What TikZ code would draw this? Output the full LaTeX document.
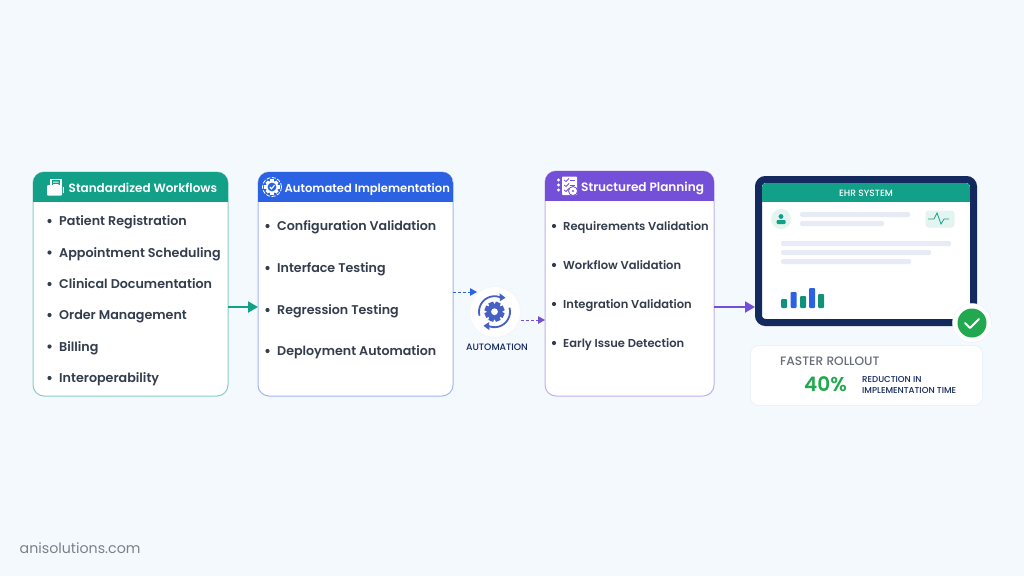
\documentclass[tikz,border=0pt]{standalone}
\usepackage{fontspec}
\setmainfont{Poppins}[UprightFont=* Medium,BoldFont=* SemiBold]
\newfontfamily\lightface{Poppins}
\usetikzlibrary{arrows.meta,calc}
\definecolor{pagebg}{HTML}{F4F9FE}
\definecolor{tealc}{HTML}{13A088}
\definecolor{bluec}{HTML}{2B62E3}
\definecolor{purplec}{HTML}{7450D8}
\definecolor{navyc}{HTML}{14295E}
\definecolor{inkc}{HTML}{333D4D}
\definecolor{gearc}{HTML}{4660C4}
\definecolor{barc}{HTML}{E6EBF5}
\definecolor{okc}{HTML}{22A94F}
\tikzset{
  card/.style={draw=#1,line width=1pt,fill=white,rounded corners=11pt,inner sep=0pt,outer sep=0pt,anchor=north west},
  head/.style={anchor=base west,inner sep=0pt,text=white},
  item/.style={anchor=base west,inner sep=0pt,text=inkc},
  dotb/.style={circle,fill=inkc,minimum size=4.2pt,inner sep=0pt},
  flow/.style={line width=2pt,-{Triangle[length=10pt,width=11pt]}},
  dashflow/.style={line width=1pt,dash pattern=on 3pt off 2pt,-{Triangle[length=7pt,width=7.5pt]}},
  pill/.style={fill=barc,rounded corners=1.5pt},
}
\begin{document}
\begin{tikzpicture}[x=1pt,y=-1pt]
\useasboundingbox (0,0) rectangle (1024,576);
\fill[pagebg] (0,0) rectangle (1024,576);

% cards
\node[card=tealc!50,minimum width=195pt,minimum height=224pt] (c1) at (33,172) {};
\node[card=bluec!45,minimum width=195pt,minimum height=224pt] (c2) at (258,172) {};
\node[card=purplec!45,minimum width=169pt,minimum height=225pt] (c3) at (545,171) {};
\begin{scope}\clip[rounded corners=11pt] (33,172) rectangle (228,396); \fill[tealc] (33,172) rectangle (228,202);\end{scope}
\begin{scope}\clip[rounded corners=11pt] (258,172) rectangle (453,396); \fill[bluec] (258,172) rectangle (453,202);\end{scope}
\begin{scope}\clip[rounded corners=11pt] (545,171) rectangle (714,396); \fill[purplec] (545,171) rectangle (714,201);\end{scope}

% card headings
\node[head,font=\fontsize{12}{13}\bfseries\selectfont] (h1) at (68.5,192) {Standardized Workflows};
\node[head,font=\fontsize{11.55}{13}\bfseries\selectfont] (h2) at (284.5,192) {Automated Implementation};
\node[head,font=\fontsize{12.1}{13}\bfseries\selectfont] (h3) at (581,191) {Structured Planning};

% folder icon
\fill[white] (50,178.5) rectangle (61.5,188);
\fill[tealc] (51.5,180) rectangle (60,187);
\fill[white] (53,181.5) rectangle (58.5,182.5) (53,184) rectangle (58.5,185);
\fill[white,rounded corners=1pt] (47,185) -- (47,195.5) -- (62,195.5) -- (62,185) -- cycle;
\fill[white] (62.5,187) rectangle (63.5,193);

% badge icon
\begin{scope}[shift={(272,187)}]
  \draw[white,line width=.8pt,dash pattern=on 4pt off 1.5pt] (0,0) circle (9.5pt);
  \foreach \a in {0,45,...,315}
    \fill[white,rotate=\a] (-1.6pt,5pt) rectangle (1.6pt,7.6pt);
  \fill[white] (0,0) circle (6.2pt);
  \fill[bluec] (0,0) circle (4.4pt);
  \draw[white,line width=1.1pt] (-2.2pt,0pt) -- (-.5pt,-1.8pt) -- (2.5pt,1.8pt);
\end{scope}

% checklist icon
\fill[white,rounded corners=.8pt] (562,176.5) rectangle (577,195);
\foreach \yy in {180,185,190}{
  \fill[white] (558.5,\yy) circle (1.6pt);
  \draw[purplec,line width=.8pt] (564,\yy) -- (566,\yy+1.5) -- (569,\yy-1.5);
  \draw[purplec,line width=.8pt] (570,\yy) -- (575,\yy);
}
\fill[white,draw=purplec,line width=.8pt] (573,191) circle (4.5pt);
\fill[purplec] (573,191) circle (1.2pt);

% list 1
\foreach \nm/\yy/\tx in {a/225.5/Patient Registration,b/257/Appointment Scheduling,c/288.5/Clinical Documentation,d/319.5/Order Management,e/351/Billing,f/382.5/Interoperability}{
  \node[dotb] (d1\nm) at (49.5,\yy-4.5) {};
  \node[item,font=\fontsize{12.7}{14}\bfseries\selectfont] (t1\nm) at (59,\yy) {\tx};
}
% list 2
\foreach \nm/\yy/\tx in {a/230.5/Configuration Validation,b/272.5/Interface Testing,c/314.5/Regression Testing,d/355.5/Deployment Automation}{
  \node[dotb] (d2\nm) at (267.5,\yy-4.5) {};
  \node[item,font=\fontsize{12.65}{14}\bfseries\selectfont] (t2\nm) at (277,\yy) {\tx};
}
% list 3
\foreach \nm/\yy/\tx in {a/230.5/Requirements Validation,b/269.5/Workflow Validation,c/308.5/Integration Validation,d/347.5/Early Issue Detection}{
  \node[dotb] (d3\nm) at (554,\yy-4.5) {};
  \node[item,font=\fontsize{11.5}{13}\bfseries\selectfont] (t3\nm) at (563,\yy) {\tx};
}

% automation hub
\node[circle,fill=white,draw=barc!60,line width=.5pt,minimum size=51pt,inner sep=0pt] (hub) at (495,312) {};
\begin{scope}[shift={(494.5,311.7)},gearc]
  \foreach \a in {0,45,...,315}
    \fill[rotate=\a+22.5] (-2.6pt,5pt) rectangle (2.6pt,10pt);
  \fill (0,0) circle (8pt);
  \fill[white] (0,0) circle (3.4pt);
  \draw[line width=1.8pt] (195:15.5pt) arc (195:62:15.5pt);
  \draw[line width=1.8pt] (15:15.5pt) arc (15:-118:15.5pt);
  \fill (11pt,14pt) -- ++(-6pt,4.5pt) -- ++(0.5pt,-8pt) -- cycle;
  \fill (-11pt,-14pt) -- ++(6pt,-4.5pt) -- ++(-0.5pt,8pt) -- cycle;
\end{scope}
\node[inner sep=0pt,anchor=base,text=navyc,font=\fontsize{9.3}{11}\selectfont] (hubl) at (497,350.5) {AUTOMATION};

% EHR tablet
\node[draw=navyc,fill=white,line width=7pt,rounded corners=7pt,inner sep=0pt,minimum width=215pt,minimum height=143pt,anchor=north west] (tab) at (755,176) {};
\begin{scope}\clip[rounded corners=4pt] (762,183) rectangle (970,319); \fill[tealc] (762,183) rectangle (970,202);\end{scope}
\node[inner sep=0pt,anchor=base,text=white,font=\fontsize{9.1}{11}\selectfont] (ehr) at (866,196) {EHR SYSTEM};

\node[circle,fill=tealc!12,minimum size=20pt,inner sep=0pt] (av) at (781,219) {};
\fill[tealc] (781,216.5) circle (2.4pt);
\fill[tealc,rounded corners=1pt] (776.5,224) rectangle (785.5,220);
\fill[pill] (800,212) rectangle (910,217);
\fill[pill] (800,221) rectangle (884,226);
\node[fill=tealc!12,rounded corners=3pt,minimum width=29pt,minimum height=17pt,inner sep=0pt] (pulse) at (940,219) {};
\draw[tealc,line width=.8pt] (928,219) -- (934,219) -- (937,213) -- (941,224) -- (944,219) -- (949,219);
\fill[pill] (781,241) rectangle (951,246);
\fill[pill] (781,250) rectangle (931,255);
\fill[pill] (781,259) rectangle (911,264);

% small bar chart
\fill[tealc!90!black,rounded corners=1pt] (781,299) rectangle (787,308);
\fill[bluec,rounded corners=1pt] (790.5,292) rectangle (796.5,308);
\fill[tealc!90!black,rounded corners=1pt] (800,296) rectangle (806,308);
\fill[bluec,rounded corners=1pt] (809,288) rectangle (815,308);
\fill[tealc!90!black,rounded corners=1pt] (818,294) rectangle (824,308);

% approval badge
\node[circle,fill=white,draw=barc!70,line width=.5pt,minimum size=39pt,inner sep=0pt] (halo) at (972,323) {};
\node[circle,fill=okc,minimum size=29pt,inner sep=0pt] (ok) at (972,323) {};
\draw[white,line width=2pt,line cap=round,line join=round] (965,323) -- (970,328) -- (979,319);

% result panel
\node[card=barc!70,line width=.8pt,rounded corners=8pt,minimum width=232pt,minimum height=60pt] (res) at (750.5,345.5) {};
\node[inner sep=0pt,anchor=base west,text=inkc!75,font=\fontsize{12.2}{14}\selectfont] (fr) at (780,365.5) {FASTER ROLLOUT};
\node[inner sep=0pt,anchor=base west,text=okc,font=\fontsize{20}{22}\bfseries\selectfont] (pc) at (804,391) {40\%};
\node[inner sep=0pt,anchor=base west,text=navyc,font=\fontsize{8.6}{10}\selectfont] (r1) at (862,382.5) {REDUCTION IN};
\node[inner sep=0pt,anchor=base west,text=navyc,font=\fontsize{8.6}{10}\selectfont] (r2) at (862,393.5) {IMPLEMENTATION TIME};

% footer
\node[inner sep=0pt,anchor=base west,text=inkc!65,font=\fontsize{14.2}{16}\lightface\selectfont] (site) at (19.5,553) {anisolutions.com};

% connectors
\coordinate (hubin) at ($(c2.east)+(24pt,-8pt)$);
\draw[flow,tealc] ([yshift=-23pt]c1.east) -- ([yshift=-23pt]c2.west);
\draw[flow,purplec] ([yshift=-23.5pt]c3.east) -- ([yshift=-56pt]tab.west);
\draw[dashflow,bluec] ([yshift=-8pt]c2.east) -- (hubin);
\draw[dashflow,purplec] ([yshift=-8pt]hub.east) -- ([yshift=-36.5pt]c3.west);
\end{tikzpicture}
\end{document}
